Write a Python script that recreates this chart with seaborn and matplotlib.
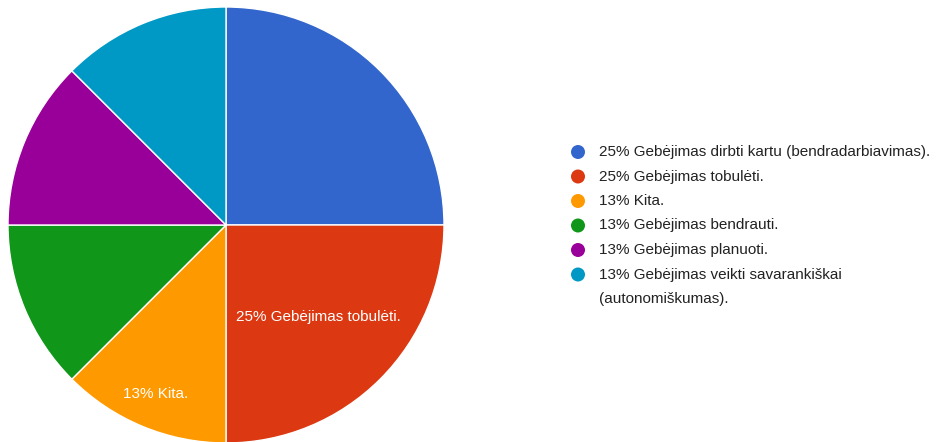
import matplotlib
matplotlib.use("Agg")
import matplotlib.pyplot as plt
from matplotlib.patches import Circle
import seaborn as sns
import numpy as np

## Data
labels = ["Gebėjimas dirbti kartu (bendradarbiavimas).",
          "Gebėjimas tobulėti.",
          "Kita.",
          "Gebėjimas bendrauti.",
          "Gebėjimas planuoti.",
          "Gebėjimas veikti savarankiškai\n(autonomiškumas)."]
counts = [2, 2, 1, 1, 1, 1]
colors = ["#3366CC", "#DC3912", "#FF9900", "#109618", "#990099", "#0099C6"]
# which slices get an inner label, and how far out (fraction of radius)
inner_label = [False, True, True, False, False, False]
label_r = [0.6, 0.6, 0.84, 0.6, 0.6, 0.6]

sns.set_theme(style="white")
plt.rcParams['font.family'] = ['Liberation Sans', 'DejaVu Sans']

total = sum(counts)
pcts = [int(c / total * 100 + 0.5) for c in counts]

fig = plt.figure(figsize=(9.37, 4.42), dpi=100)
ax = fig.add_axes([8 / 937, -1 / 442, 436 / 937, 436 / 442])
wedges, _ = ax.pie(counts, colors=colors, startangle=90, counterclock=False,
                   radius=1, wedgeprops=dict(edgecolor="white", linewidth=1))
ax.set_xlim(-1, 1)
ax.set_ylim(-1, 1)
ax.set_aspect("equal")
ax.axis("off")

for w, p, lab, show, r in zip(wedges, pcts, labels, inner_label, label_r):
    if not show:
        continue
    ang = np.deg2rad((w.theta1 + w.theta2) / 2)
    ax.text(r * np.cos(ang), r * np.sin(ang), f"{p}% {lab}", color="white",
            fontsize=11, ha="center", va="center")

# legend on the right (drawn by hand so the wrapped entry keeps its dot on line 1)
y0 = 152
step = 24.5
row = 0
for c, p, lab in zip(colors, pcts, labels):
    y = 1 - (y0 + row * step) / 442
    fig.patches.append(Circle((5.78, y * 4.42), 0.07, transform=fig.dpi_scale_trans,
                              facecolor=c, edgecolor="none"))
    for ln in f"{p}% {lab}".split("\n"):
        y = 1 - (y0 + row * step) / 442
        fig.text(599 / 937, y, ln, color="#222222", fontsize=11, va="center", ha="left")
        row += 1

fig.savefig("out.png", dpi=100)
